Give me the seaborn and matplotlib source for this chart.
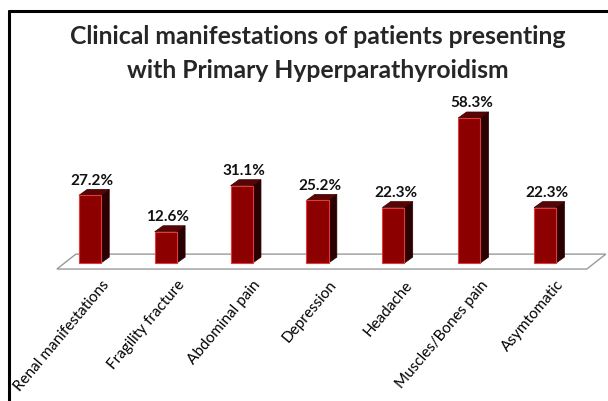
import matplotlib
matplotlib.use("Agg")
import matplotlib.pyplot as plt
import matplotlib.transforms as mtransforms
from matplotlib.patches import Polygon
from matplotlib.lines import Line2D
import seaborn as sns
import pandas as pd

categories = ["Renal manifestations", "Fragility fracture", "Abdominal pain",
              "Depression", "Headache", "Muscles/Bones pain", "Asymtomatic"]
percent = [27.2, 12.6, 31.1, 25.2, 22.3, 58.3, 22.3]
value_labels = ["27.2%", "12.6%", "31.1%", "25.2%", "22.3%", "58.3%", "22.3%"]

df = pd.DataFrame({"Manifestation": categories, "Percent": percent})

sns.set_style("white")
plt.rcParams["font.family"] = ["Lato", "DejaVu Sans"]

W, H = 608, 402
fig = plt.figure(figsize=(W / 100, H / 100), dpi=100)
# axes placed in pixel terms: left 33, right 602, top 110, bottom 280
ax = fig.add_axes([33 / W, 1 - 280 / H, (602 - 33) / W, (280 - 110) / H])

front = "#8c0000"
side = "#2a0000"
top = "#5a0505"

sns.barplot(data=df, x="Manifestation", y="Percent", color=front, width=0.29,
            saturation=1, edgecolor="#e03a3a", linewidth=0.8, ax=ax, zorder=3)

ax.set_xlim(-0.75, 6.75)
ax.set_ylim(-6.4, 61.9)

# depth of the fake 3D look, in data units
dx, dy = 0.11, 2.4

# floor plane
floor = Polygon([(-0.435, -2.4), (6.55, -2.4), (6.8, 3.6), (-0.185, 3.6)],
                closed=True, facecolor="white", edgecolor="#9a9a9a",
                linewidth=1.0, zorder=1, clip_on=False)
ax.add_patch(floor)

for bar, lab in zip(ax.patches, value_labels):
    x0 = bar.get_x()
    x1 = x0 + bar.get_width()
    h = bar.get_height()
    ax.add_patch(Polygon([(x1, 0), (x1 + dx, dy), (x1 + dx, h + dy), (x1, h)],
                         closed=True, facecolor=side, edgecolor=side,
                         linewidth=0.5, zorder=2.9))
    ax.add_patch(Polygon([(x0, h), (x0 + dx, h + dy), (x1 + dx, h + dy), (x1, h)],
                         closed=True, facecolor=top, edgecolor="#3a0000",
                         linewidth=0.5, zorder=2.9))
    ax.text((x0 + x1) / 2 + dx / 4, h + dy + 1.0, lab, ha="center", va="bottom",
            fontsize=11, fontweight="bold", color="#111111")

ax.set_xlabel("")
ax.set_ylabel("")
ax.set_yticks([])
ax.tick_params(axis="x", length=0, pad=0)
ax.set_xticks(range(len(categories)))
ax.set_xticklabels(categories, rotation=50, ha="right", rotation_mode="anchor",
                   fontsize=11, color="black")
shift = mtransforms.ScaledTranslation(11 / 100, 2 / 100, fig.dpi_scale_trans)
for t in ax.get_xticklabels():
    t.set_transform(t.get_transform() + shift)
for s in ax.spines.values():
    s.set_visible(False)
ax.patch.set_alpha(0)

fig.text(318 / W, 1 - 36 / H, "Clinical manifestations of patients presenting",
         ha="center", va="center", fontsize=17.8, fontweight="bold")
fig.text(318 / W, 1 - 70 / H, "with Primary Hyperparathyroidism",
         ha="center", va="center", fontsize=17.8, fontweight="bold")

# black frame lines on top and left
fig.add_artist(Line2D([9 / W, 1], [1 - 12 / H, 1 - 12 / H], color="black",
                      linewidth=2.2, transform=fig.transFigure))
fig.add_artist(Line2D([9 / W, 9 / W], [0, 1 - 12 / H], color="black",
                      linewidth=2.2, transform=fig.transFigure))

fig.savefig("out.png", dpi=100, facecolor="white")
